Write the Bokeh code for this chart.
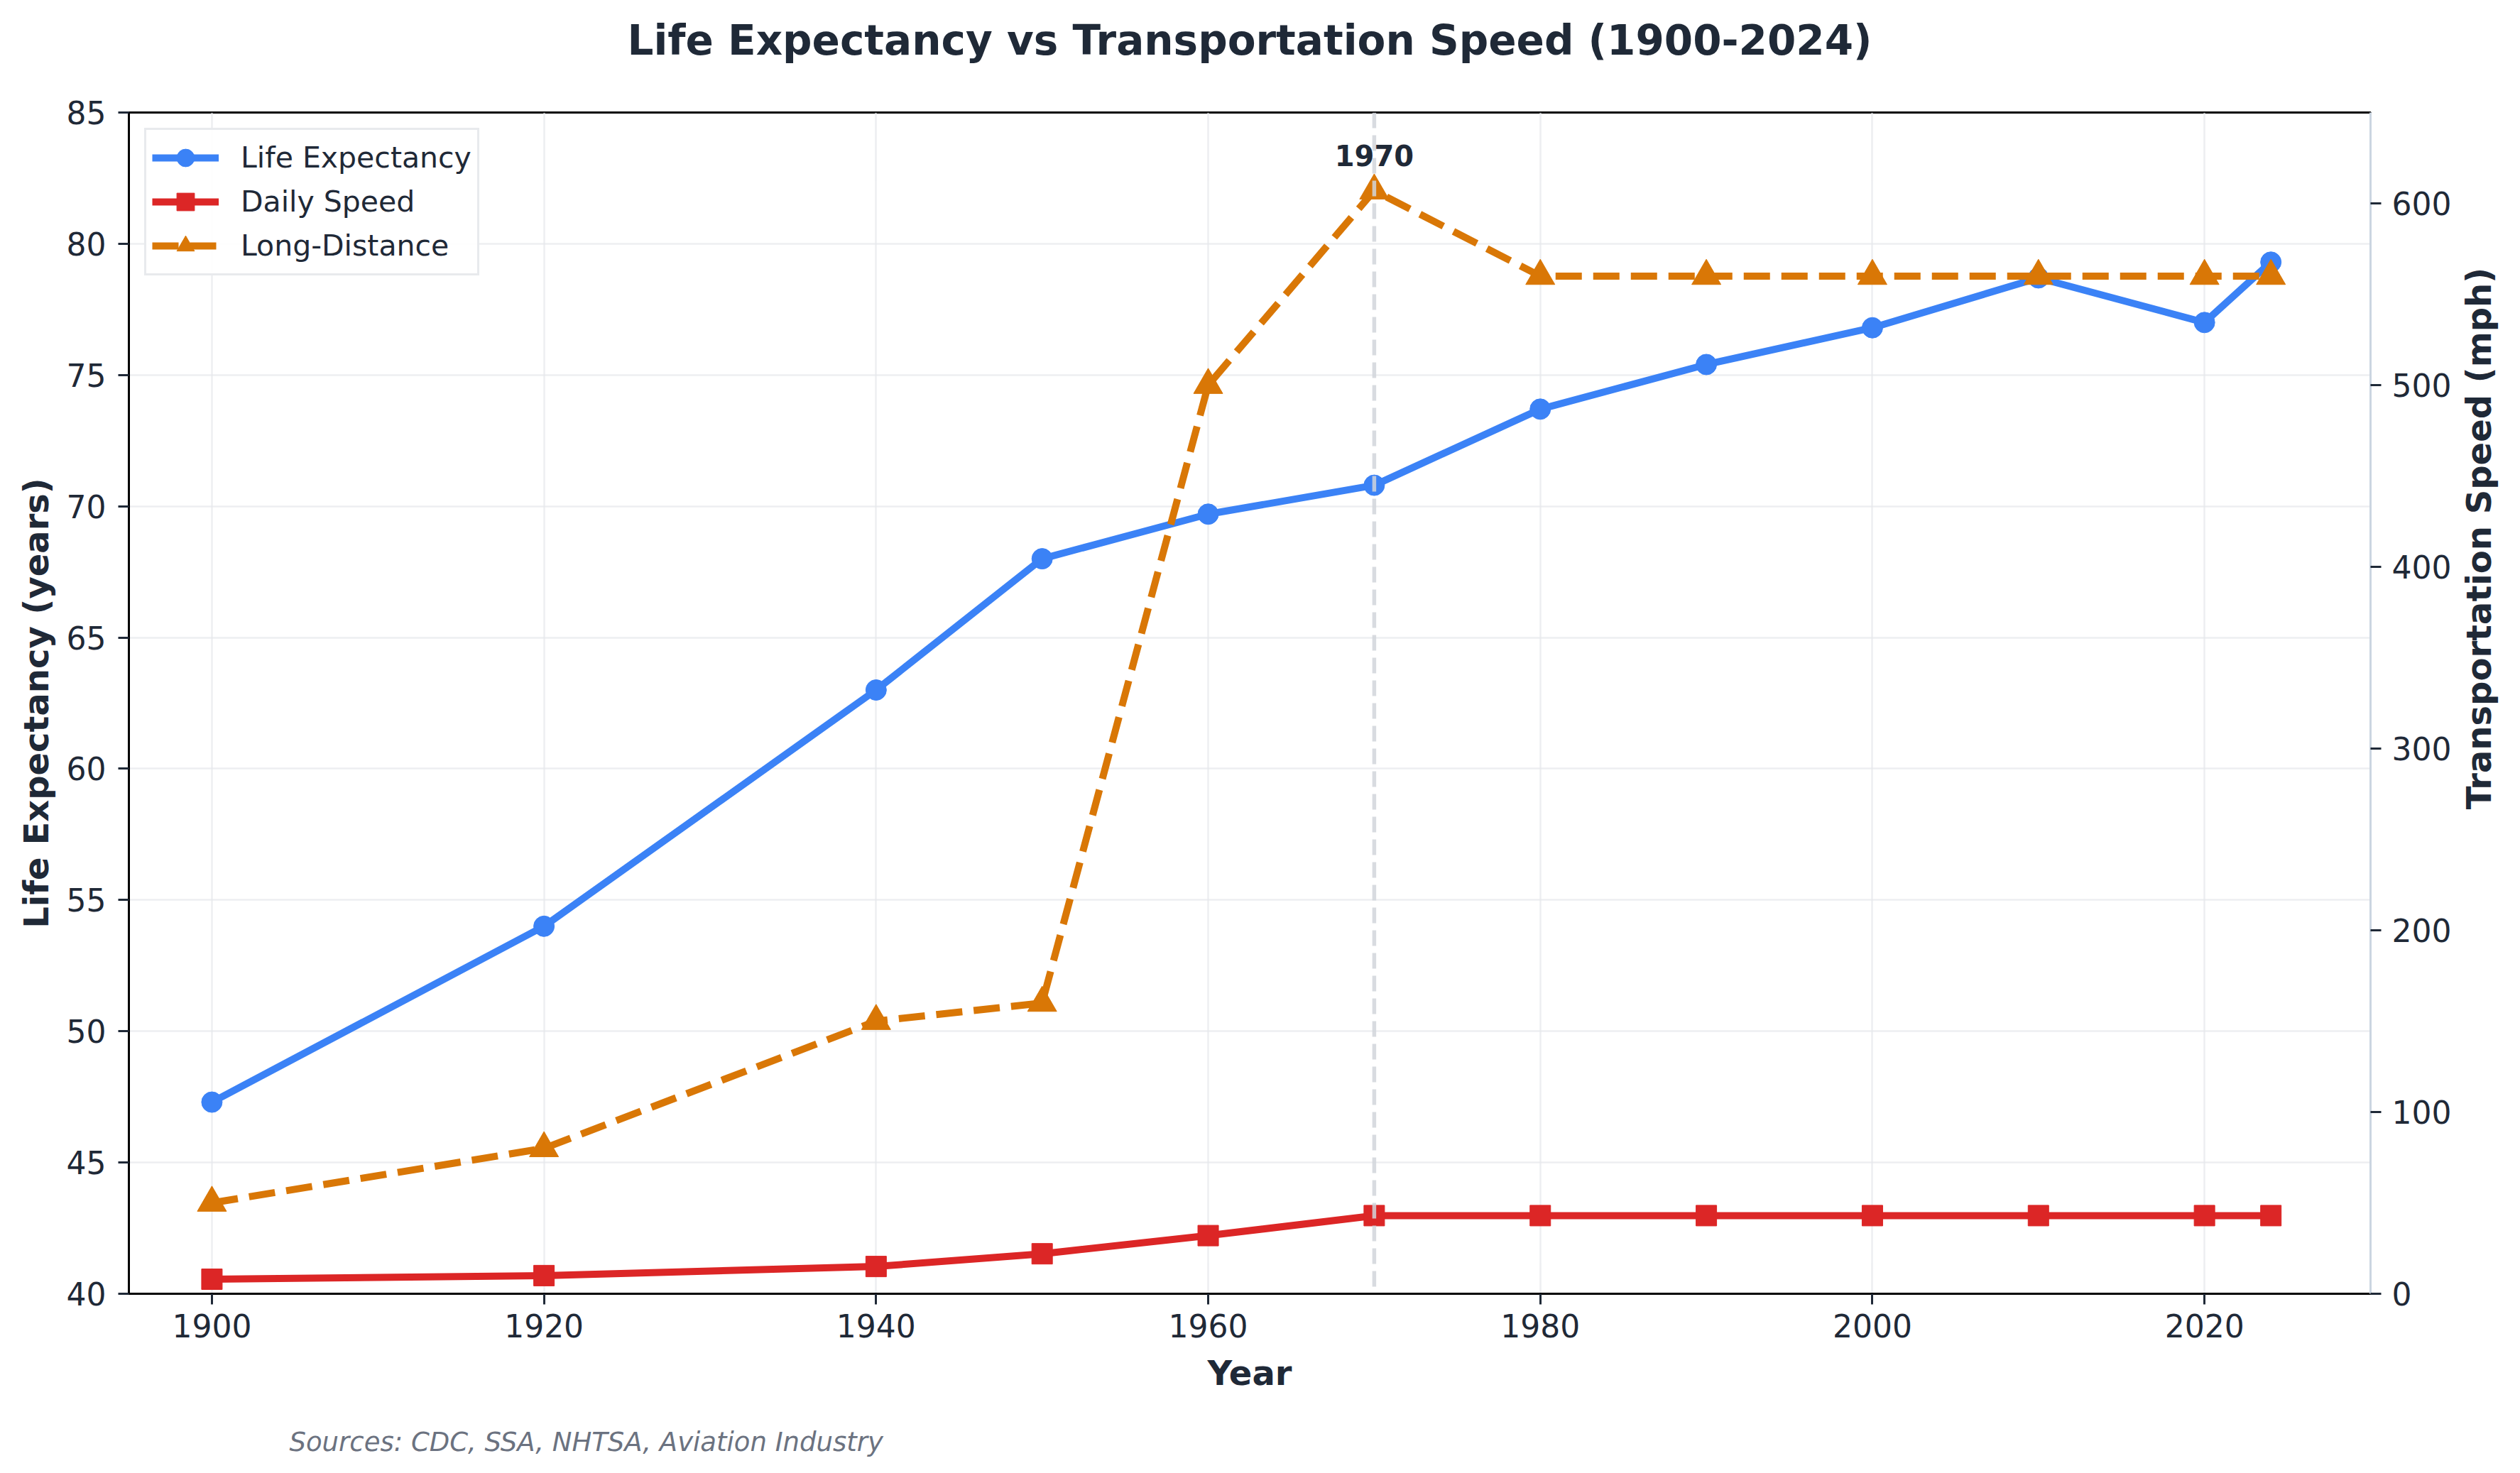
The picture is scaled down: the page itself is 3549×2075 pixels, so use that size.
import math
from bokeh.plotting import figure
from bokeh.layouts import row
from bokeh.models import (Range1d, LinearAxis, FixedTicker, Span, Label, Legend,
                          LegendItem, Title)
from bokeh.embed import file_html
from bokeh.resources import INLINE

# ---------------- data ----------------
years = [1900, 1920, 1940, 1950, 1960, 1970, 1980, 1990, 2000, 2010, 2020, 2024]
life_expectancy = [47.3, 54.0, 63.0, 68.0, 69.7, 70.8, 73.7, 75.4, 76.8, 78.7, 77.0, 79.3]
daily_speed = [8, 10, 15, 22, 32, 43, 43, 43, 43, 43, 43, 43]
long_distance = [50, 80, 150, 160, 500, 607, 560, 560, 560, 560, 560, 560]
series_names = ["Life Expectancy", "Daily Speed", "Long-Distance"]
x_ticks = [1900, 1920, 1940, 1960, 1980, 2000, 2020]
x_limits = [1895, 2030]
life_ticks = [40, 45, 50, 55, 60, 65, 70, 75, 80, 85]
speed_ticks = [0, 100, 200, 300, 400, 500, 600]
speed_limits = [0, 650]
highlight_year = 1970
title_text = "Life Expectancy vs Transportation Speed (1900-2024)"
source_text = "Sources: CDC, SSA, NHTSA, Aviation Industry"
right_label = "Transportation Speed (mph)"

# ---------------- style ----------------
FONT = "DejaVu Sans"
TXT = "#1f2937"
BLUE = "#3b82f6"
RED = "#dc2626"
ORANGE = "#d97706"

W, H = 3458, 2059
BL, BR, BT, BB = 181, 120, 158, 237
W2 = 80

p = figure(width=W, height=H, output_backend="svg", toolbar_location=None,
           x_range=Range1d(*x_limits),
           y_range=Range1d(life_ticks[0], life_ticks[-1]),
           min_border_left=BL, min_border_right=BR,
           min_border_top=BT, min_border_bottom=BB,
           background_fill_color="white", border_fill_color="white")
p.extra_y_ranges = {"speed": Range1d(*speed_limits)}
p.outline_line_color = "black"
p.outline_line_width = 3

# title (second, empty line lifts the text away from the frame)
p.title.text = title_text + "\n"
p.title.align = "center"
p.title.text_font = FONT
p.title.text_font_size = "58px"
p.title.text_font_style = "bold"
p.title.text_color = TXT
p.title.standoff = 0

def style_axis(ax, line_color="black"):
    ax.axis_line_color = line_color
    ax.axis_line_width = 3
    ax.major_tick_line_color = TXT
    ax.major_tick_line_width = 3
    ax.major_tick_out = 15
    ax.major_tick_in = 0
    ax.minor_tick_line_color = None
    ax.major_label_text_font = FONT
    ax.major_label_text_font_size = "44px"
    ax.major_label_text_color = TXT
    ax.axis_label_text_font = FONT
    ax.axis_label_text_font_size = "48px"
    ax.axis_label_text_font_style = "bold"
    ax.axis_label_text_color = TXT

xa = p.xaxis[0]
style_axis(xa)
xa.ticker = FixedTicker(ticks=x_ticks)
xa.axis_label = "Year"
xa.major_label_standoff = 13
xa.axis_label_standoff = 19

ya = p.yaxis[0]
style_axis(ya)
ya.ticker = FixedTicker(ticks=life_ticks)
ya.axis_label = "Life Expectancy (years)"
ya.major_label_standoff = 17
ya.axis_label_standoff = 12

ra = LinearAxis(y_range_name="speed", ticker=FixedTicker(ticks=speed_ticks))
style_axis(ra, line_color="#cbd5e1")
ra.major_label_standoff = 15
p.add_layout(ra, "right")

# grid
p.xgrid.ticker = FixedTicker(ticks=x_ticks)
p.ygrid.ticker = FixedTicker(ticks=life_ticks)
for g in (p.xgrid[0], p.ygrid[0]):
    g.grid_line_color = "#e5e7eb"
    g.grid_line_width = 2.5
    g.grid_line_alpha = 0.7

# series
l1 = p.line(years, life_expectancy, line_color=BLUE, line_width=10)
s1 = p.scatter(years, life_expectancy, marker="circle", size=29, color=BLUE)
l2 = p.line(years, daily_speed, line_color=RED, line_width=10, y_range_name="speed")
s2 = p.scatter(years, daily_speed, marker="square", size=29, color=RED, y_range_name="speed")
l3 = p.line(years, long_distance, line_color=ORANGE, line_width=10, line_dash="37 16",
            y_range_name="speed")
s3 = p.scatter(years, long_distance, marker="triangle", size=41, color=ORANGE,
               y_range_name="speed")

# highlight line + label
p.add_layout(Span(location=highlight_year, dimension="height", line_color="#d1d5db",
                  line_width=5.5, line_dash="22 10", line_alpha=0.85))
hi = years.index(highlight_year)
p.add_layout(Label(x=highlight_year, y=long_distance[hi], y_range_name="speed",
                   text=str(highlight_year), text_align="center",
                   text_baseline="alphabetic", y_offset=50,
                   text_font=FONT, text_font_size="40px", text_font_style="bold",
                   text_color=TXT))

# legend
legend = Legend(items=[LegendItem(label=series_names[0], renderers=[l1, s1]),
                       LegendItem(label=series_names[1], renderers=[l2, s2]),
                       LegendItem(label=series_names[2], renderers=[l3, s3])],
                location="top_left", margin=22, padding=8, spacing=0,
                glyph_width=94, glyph_height=62, label_standoff=31,
                label_text_font=FONT, label_text_font_size="41px",
                label_text_color=TXT, border_line_color="#d1d5db",
                border_line_width=3, background_fill_alpha=0.9)
p.add_layout(legend)

# source note (leading empty line pushes it down)
src = Title(text="\n" + source_text, align="left", offset=226, text_font=FONT,
            text_font_size="37px", text_font_style="italic", text_color="#6b7280",
            standoff=0)
p.add_layout(src, "below")

# narrow strip on the right holding the right-axis title (reads bottom-to-top)
p2 = figure(width=W2, height=H, output_backend="svg", toolbar_location=None,
            x_range=Range1d(0, 1), y_range=Range1d(0, 1),
            x_axis_type=None, y_axis_type=None, min_border=0,
            background_fill_color="white", border_fill_color="white")
p2.outline_line_color = None
p2.grid.visible = False
p2.add_layout(Label(x=3490 - W, y=H - 995, x_units="screen", y_units="screen",
                    text=right_label, angle=math.pi / 2,
                    text_align="center", text_baseline="middle",
                    text_font=FONT, text_font_size="48px", text_font_style="bold",
                    text_color=TXT))

layout = row(p, p2, spacing=0)
open("out.html", "w").write(file_html(layout, INLINE))
